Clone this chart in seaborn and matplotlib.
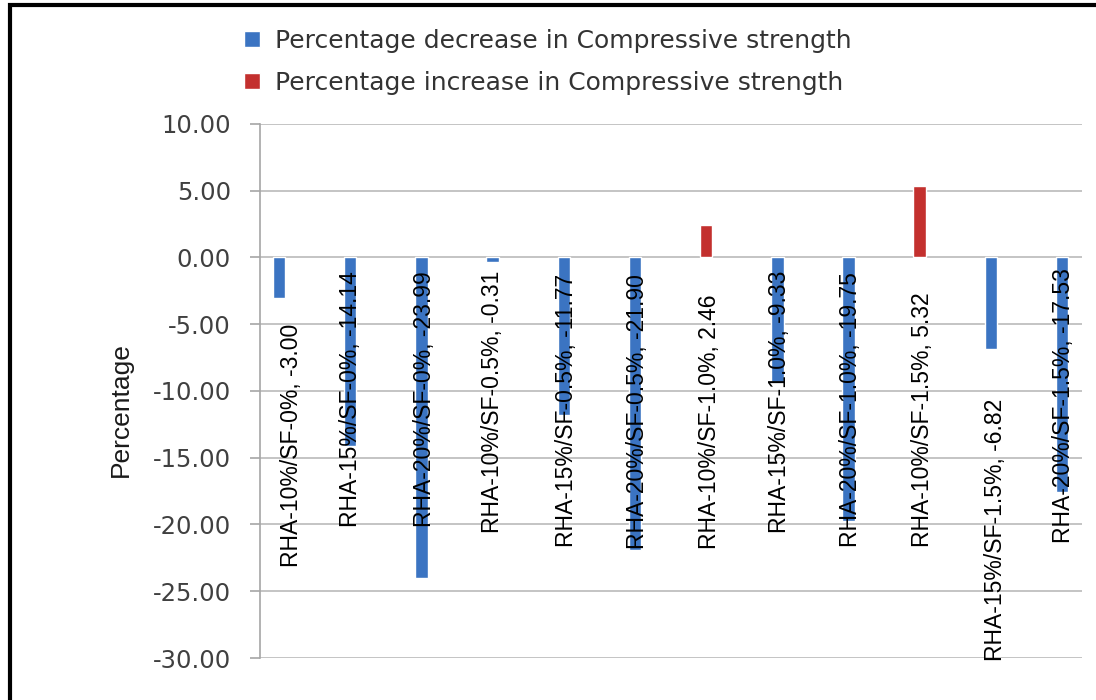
import numpy as np
import pandas as pd
import matplotlib
matplotlib.use("Agg")
import matplotlib.pyplot as plt
from matplotlib.patches import Rectangle
import seaborn as sns

# ---- data -------------------------------------------------------------
mixes = [
    "RHA-10%/SF-0%", "RHA-15%/SF-0%", "RHA-20%/SF-0%",
    "RHA-10%/SF-0.5%", "RHA-15%/SF-0.5%", "RHA-20%/SF-0.5%",
    "RHA-10%/SF-1.0%", "RHA-15%/SF-1.0%", "RHA-20%/SF-1.0%",
    "RHA-10%/SF-1.5%", "RHA-15%/SF-1.5%", "RHA-20%/SF-1.5%",
]
change = [-3.00, -14.14, -23.99, -0.31, -11.77, -21.90,
          2.46, -9.33, -19.75, 5.32, -6.82, -17.53]
series_names = ["Percentage decrease in Compressive strength",
                "Percentage increase in Compressive strength"]
y_ticks = [10, 5, 0, -5, -10, -15, -20, -25, -30]

# ---- styling / layout --------------------------------------------------
series_colors = ["#3B74C2", "#C3302E"]
# where each rotated data label begins (y, data units) and its sideways nudge
label_start = [-23.2, -20.2, -20.2, -20.6, -21.7, -21.8,
               -21.8, -20.6, -21.7, -21.7, -30.2, -21.4]
label_dx = [0.17, 0.0, 0.05, 0.0, 0.04, 0.04,
            0.05, 0.03, 0.03, 0.04, 0.07, 0.02]

sns.set_theme(style="white")
plt.rcParams["font.family"] = ["DejaVu Sans"]
narrow = ["Liberation Sans", "DejaVu Sans"]

df = pd.DataFrame({"mix": mixes, "change": change})
df["series"] = np.where(df["change"] < 0, series_names[0], series_names[1])

fig = plt.figure(figsize=(10.96, 7.0), dpi=100)
ax = fig.add_axes([260 / 1096, 1 - 658 / 700, (1082 - 260) / 1096, (658 - 124) / 700])

sns.barplot(data=df, x="mix", y="change", hue="series", order=mixes,
            hue_order=series_names, palette=dict(zip(series_names, series_colors)),
            dodge=False, width=0.175, saturation=1, ax=ax)

ax.set_xlim(-0.267, 11.28)
ax.set_ylim(-30, 10)
ax.set_yticks(y_ticks)
ax.set_yticklabels([f"{v:.2f}" for v in y_ticks], fontsize=17.5, color="#404040")
ax.tick_params(axis="y", length=7, width=1.2, color="#A6A6A6", pad=14, left=True)
ax.tick_params(axis="x", bottom=False, labelbottom=False)
ax.set_xlabel("")
ax.yaxis.grid(True, color="#BFBFBF", lw=1.3)
ax.set_axisbelow(True)
for side in ["top", "right", "bottom"]:
    ax.spines[side].set_visible(False)
ax.spines["left"].set_color("#A6A6A6")
ax.spines["left"].set_linewidth(1.2)

ax.set_ylabel("Percentage", family=narrow, fontsize=19, color="#1a1a1a")
ax.yaxis.set_label_coords(-0.1545, 0.466)

# data labels: "<mix>, <value>"
for i, (m, v) in enumerate(zip(mixes, change)):
    ax.text(i + label_dx[i], label_start[i], f"{m}, {v:.2f}", rotation=90,
            ha="center", va="bottom", family=narrow, fontsize=16.5,
            color="black", clip_on=False)

# legend above the plot
handles, labels = ax.get_legend_handles_labels()
if ax.legend_ is not None:
    ax.legend_.remove()
fig.legend(handles, labels, loc="upper left",
           bbox_to_anchor=(244 / 1096, 1 - 29 / 700), frameon=False,
           fontsize=18, borderpad=0, borderaxespad=0, handlelength=0.62,
           handleheight=0.62, handletextpad=0.62, labelspacing=0.72,
           labelcolor="#333333")

# outer frame
fig.add_artist(Rectangle((10 / 1096, -0.1), 1.2, 1.1 - 5.5 / 700,
                         transform=fig.transFigure, fill=False,
                         edgecolor="black", lw=3))

fig.savefig("out.png", dpi=100)
